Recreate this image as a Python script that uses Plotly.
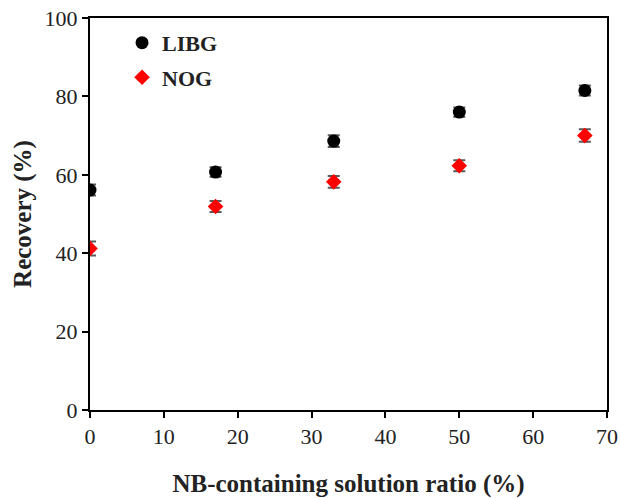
import plotly.graph_objects as go

ratio = [0, 17, 33, 50, 67]
libg = [56.1, 60.7, 68.6, 76.0, 81.5]
libg_err = [1.4, 1.2, 1.5, 1.2, 1.3]
nog = [41.2, 51.9, 58.2, 62.3, 70.0]
nog_err = [1.8, 1.4, 1.5, 1.4, 1.6]

serif = "Liberation Serif, Times New Roman, serif"

fig = go.Figure()
fig.add_trace(go.Scatter(
    x=ratio, y=libg, mode="markers", name="<b>LIBG</b>", legendgroup="a",
    marker=dict(symbol="circle", size=13, color="black"),
    error_y=dict(type="data", array=libg_err, color="#5a5a5a", thickness=2, width=6),
))
fig.add_trace(go.Scatter(
    x=ratio, y=nog, mode="markers", name="<b>NOG</b>", legendgroup="b",
    marker=dict(symbol="diamond", size=12, color="#ff0000"),
    error_y=dict(type="data", array=nog_err, color="#5a5a5a", thickness=2, width=6),
))

axis_common = dict(
    showline=True, linecolor="black", linewidth=2, mirror=True,
    ticks="outside", ticklen=6, tickwidth=2, tickcolor="black",
    showgrid=False, zeroline=False, automargin=False,
    tickfont=dict(family=serif, size=22, color="#222222"),
)
fig.update_xaxes(range=[0, 70], dtick=10, **axis_common,
                 title=dict(text="<b>NB-containing solution ratio (%)</b>",
                            font=dict(family=serif, size=25, color="#222222"), standoff=28))
fig.update_yaxes(range=[0, 100], dtick=20, **axis_common,
                 title=dict(text="<b>Recovery (%)</b>",
                            font=dict(family=serif, size=25, color="#222222"), standoff=6))

fig.update_layout(
    width=620, height=498,
    margin=dict(l=90, r=13, t=18, b=88),
    plot_bgcolor="white", paper_bgcolor="white",
    showlegend=True,
    legend=dict(x=0.062, y=0.99, xanchor="left", yanchor="top",
                font=dict(family=serif, size=22, color="#222222"),
                bgcolor="rgba(0,0,0,0)", tracegroupgap=3, itemwidth=30),
)
fig.write_html("out.html")
